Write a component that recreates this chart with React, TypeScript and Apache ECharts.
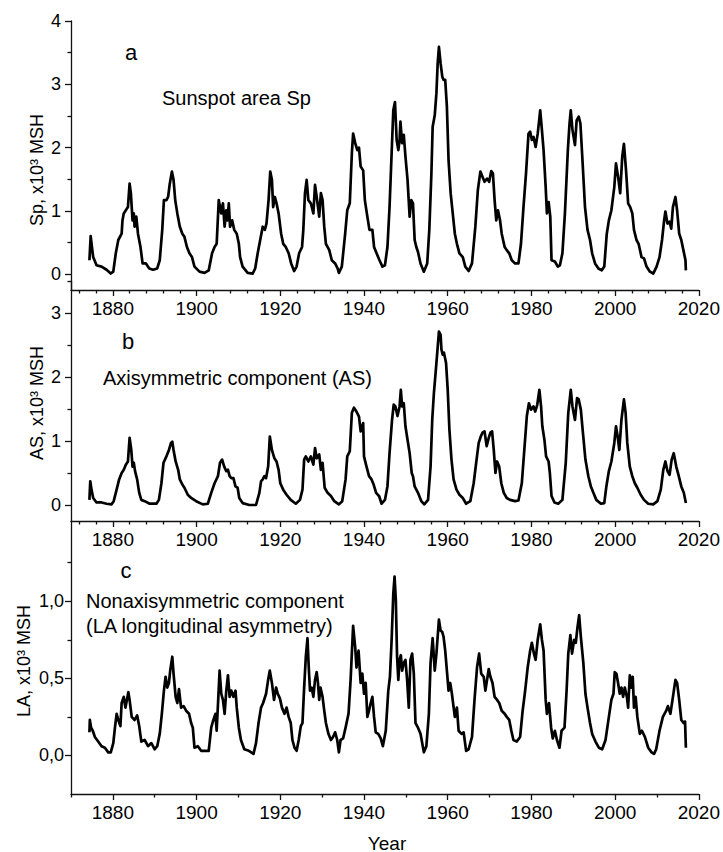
import React, { useEffect, useRef } from "react";
import * as echarts from "echarts";

// Year ticks shared by the three panels
const yearLabels = [1880, 1900, 1920, 1940, 1960, 1980, 2000, 2020];
const yearMinorAB = [1872, 1876, 1884, 1888, 1892, 1896, 1904, 1908, 1912, 1916, 1924, 1928, 1932, 1936, 1944, 1948, 1952, 1956, 1964, 1968, 1972, 1976, 1984, 1988, 1992, 1996, 2004, 2008, 2012, 2016];
const yearMinorC = [1870, 1890, 1910, 1930, 1950, 1970, 1990, 2010];

const spTicks = [0, 1, 2, 3, 4];
const spMinor = [0.5, 1.5, 2.5, 3.5];
const asTicks = [0, 1, 2, 3];
const asMinor = [0.5, 1.5, 2.5, 3.5];
const laTicks = [0, 0.5, 1.0];
const laMinor = [0.25, 0.75, 1.25];

// Sunspot area Sp, x10^3 MSH  [year, value]
const sunspotArea: [number, number][] = [
  [1874.4, 0.22], [1874.7, 0.6], [1875.0, 0.43], [1875.3, 0.27], [1876.1, 0.14], [1877.3, 0.12], [1878.5, 0.07], [1879.5, 0.01], [1880.1, 0.04], [1880.7, 0.33],
  [1881.3, 0.54], [1882.1, 0.64], [1882.3, 0.85], [1882.6, 0.96], [1883.1, 1.01], [1883.6, 1.06], [1884.0, 1.43], [1884.3, 1.28], [1884.7, 0.85], [1885.0, 0.96],
  [1885.2, 0.75], [1885.6, 0.91], [1886.0, 0.64], [1886.6, 0.43], [1887.1, 0.17], [1887.9, 0.17], [1888.7, 0.09], [1889.6, 0.07], [1890.6, 0.09], [1891.2, 0.22],
  [1891.8, 0.7], [1892.2, 1.17], [1892.8, 1.17], [1893.2, 1.22], [1893.6, 1.43], [1894.1, 1.62], [1894.5, 1.49], [1894.9, 1.17], [1895.4, 0.96], [1896.0, 0.75],
  [1896.6, 0.64], [1897.1, 0.59], [1897.7, 0.43], [1898.3, 0.33], [1898.9, 0.27], [1899.5, 0.12], [1900.7, 0.04], [1901.9, 0.02], [1902.9, 0.06], [1903.7, 0.33],
  [1904.3, 0.43], [1904.8, 0.48], [1905.3, 1.17], [1905.6, 1.06], [1905.9, 0.96], [1906.3, 1.12], [1906.7, 0.75], [1907.1, 1.01], [1907.4, 0.85], [1907.7, 1.12],
  [1908.0, 0.75], [1908.5, 0.85], [1909.0, 0.7], [1909.6, 0.64], [1910.1, 0.48], [1910.4, 0.27], [1911.0, 0.12], [1912.2, 0.02], [1913.4, 0.01], [1914.0, 0.09],
  [1914.6, 0.33], [1915.2, 0.54], [1915.8, 0.75], [1916.3, 0.7], [1916.7, 0.8], [1917.2, 1.17], [1917.6, 1.62], [1918.0, 1.49], [1918.3, 1.06], [1918.7, 1.22],
  [1919.1, 1.12], [1919.6, 0.96], [1920.2, 0.64], [1920.7, 0.48], [1921.3, 0.43], [1922.0, 0.33], [1922.6, 0.17], [1923.3, 0.05], [1923.9, 0.12], [1924.5, 0.33],
  [1925.2, 0.43], [1925.5, 0.7], [1925.9, 1.28], [1926.3, 1.49], [1926.7, 1.17], [1927.3, 1.12], [1927.9, 0.96], [1928.3, 1.41], [1928.7, 1.22], [1929.3, 0.91],
  [1929.7, 1.28], [1930.1, 1.17], [1930.5, 0.75], [1930.9, 0.48], [1931.7, 0.38], [1932.3, 0.22], [1933.1, 0.17], [1933.7, 0.09], [1934.0, 0.02], [1934.7, 0.12],
  [1935.5, 0.64], [1936.0, 1.01], [1936.6, 1.12], [1937.1, 1.91], [1937.4, 2.22], [1937.9, 2.07], [1938.4, 1.96], [1938.8, 2.0], [1939.2, 1.7], [1939.8, 1.64],
  [1940.2, 1.17], [1940.8, 0.91], [1941.3, 0.7], [1942.0, 0.7], [1942.4, 0.43], [1943.2, 0.3], [1943.7, 0.22], [1944.4, 0.12], [1945.0, 0.14], [1945.6, 0.43],
  [1946.1, 1.06], [1946.6, 1.91], [1947.0, 2.59], [1947.4, 2.72], [1947.8, 2.12], [1948.2, 1.96], [1948.5, 2.12], [1948.7, 2.41], [1949.1, 2.07], [1949.5, 2.2],
  [1949.9, 1.86], [1950.4, 1.49], [1950.9, 0.91], [1951.3, 1.17], [1951.7, 1.12], [1952.1, 0.54], [1952.5, 0.43], [1952.9, 0.35], [1953.5, 0.17], [1954.3, 0.04],
  [1955.1, 0.17], [1955.6, 0.7], [1956.1, 1.59], [1956.4, 2.33], [1956.9, 2.51], [1957.3, 2.86], [1957.6, 3.33], [1957.9, 3.59], [1958.3, 3.33], [1958.7, 3.12],
  [1959.0, 3.07], [1959.4, 3.07], [1959.8, 2.65], [1960.2, 1.8], [1960.7, 1.28], [1961.2, 0.96], [1961.7, 0.64], [1962.2, 0.48], [1962.8, 0.33], [1963.6, 0.27],
  [1964.2, 0.12], [1965.0, 0.05], [1965.8, 0.17], [1966.6, 0.75], [1967.2, 1.33], [1967.8, 1.62], [1968.3, 1.54], [1968.8, 1.46], [1969.4, 1.51], [1969.9, 1.46],
  [1970.4, 1.63], [1970.8, 1.59], [1971.2, 1.17], [1971.6, 0.85], [1972.0, 1.01], [1972.5, 0.85], [1972.9, 0.64], [1973.6, 0.43], [1974.1, 0.38], [1974.7, 0.33],
  [1975.3, 0.22], [1976.1, 0.17], [1976.9, 0.17], [1977.5, 0.48], [1978.1, 1.06], [1978.7, 1.59], [1979.3, 2.22], [1979.7, 2.25], [1980.1, 2.12], [1980.5, 2.17],
  [1981.0, 2.01], [1981.5, 2.22], [1982.1, 2.59], [1982.5, 2.28], [1982.9, 1.96], [1983.4, 1.38], [1983.7, 0.96], [1984.1, 1.14], [1984.5, 0.91], [1984.8, 0.22],
  [1985.6, 0.2], [1986.3, 0.12], [1986.8, 0.14], [1987.4, 0.33], [1988.0, 0.96], [1988.7, 1.96], [1989.1, 2.38], [1989.4, 2.59], [1989.8, 2.28], [1990.4, 2.04],
  [1990.8, 2.43], [1991.3, 2.49], [1991.7, 2.38], [1992.1, 1.91], [1992.8, 1.06], [1993.4, 0.7], [1994.0, 0.54], [1994.5, 0.33], [1995.2, 0.17], [1996.0, 0.09],
  [1996.8, 0.06], [1997.4, 0.12], [1998.0, 0.64], [1998.5, 0.85], [1999.1, 1.01], [1999.8, 1.38], [2000.2, 1.75], [2000.7, 1.54], [2001.2, 1.28], [2001.7, 1.86],
  [2002.1, 2.06], [2002.6, 1.64], [2003.1, 1.12], [2003.6, 1.06], [2004.1, 0.96], [2004.5, 0.7], [2005.1, 0.54], [2005.6, 0.48], [2006.3, 0.27], [2006.9, 0.25],
  [2007.5, 0.12], [2008.3, 0.04], [2009.1, 0.01], [2009.9, 0.12], [2010.6, 0.27], [2011.2, 0.54], [2011.7, 0.85], [2012.0, 0.99], [2012.5, 0.8], [2013.0, 0.83],
  [2013.4, 0.72], [2013.8, 1.06], [2014.4, 1.22], [2014.8, 1.01], [2015.3, 0.64], [2015.8, 0.54], [2016.3, 0.38], [2016.8, 0.22], [2016.9, 0.06],
];

// Axisymmetric component AS, x10^3 MSH  [year, value]
const axisymmetric: [number, number][] = [
  [1874.4, 0.08], [1874.6, 0.37], [1874.9, 0.24], [1875.3, 0.11], [1876.1, 0.04], [1877.3, 0.04], [1878.5, 0.02], [1879.7, 0.01], [1880.2, 0.06], [1880.9, 0.24],
  [1881.5, 0.4], [1882.1, 0.5], [1882.6, 0.55], [1883.1, 0.63], [1883.6, 0.68], [1884.0, 1.05], [1884.4, 0.86], [1884.7, 0.6], [1885.0, 0.66], [1885.3, 0.53],
  [1885.8, 0.4], [1886.3, 0.19], [1886.8, 0.08], [1887.6, 0.06], [1888.8, 0.02], [1890.4, 0.02], [1891.0, 0.08], [1891.6, 0.34], [1892.1, 0.66], [1892.8, 0.76],
  [1893.4, 0.86], [1893.9, 0.97], [1894.2, 0.99], [1894.5, 0.86], [1895.0, 0.68], [1895.6, 0.55], [1896.0, 0.4], [1896.6, 0.32], [1897.1, 0.27], [1897.9, 0.16],
  [1898.7, 0.11], [1899.9, 0.06], [1901.5, 0.01], [1902.7, 0.02], [1903.5, 0.19], [1904.3, 0.34], [1905.1, 0.45], [1905.6, 0.66], [1906.1, 0.71], [1906.6, 0.6],
  [1907.1, 0.53], [1907.5, 0.55], [1907.9, 0.45], [1908.3, 0.42], [1908.8, 0.42], [1909.3, 0.29], [1909.8, 0.27], [1910.2, 0.11], [1911.0, 0.03], [1912.6, 0.0],
  [1914.2, 0.0], [1915.0, 0.19], [1915.4, 0.37], [1915.8, 0.4], [1916.2, 0.45], [1916.6, 0.42], [1917.1, 0.6], [1917.5, 1.07], [1918.0, 0.86], [1918.6, 0.73],
  [1919.1, 0.68], [1919.6, 0.55], [1920.0, 0.34], [1920.7, 0.24], [1921.5, 0.16], [1922.5, 0.08], [1923.7, 0.02], [1924.7, 0.08], [1925.3, 0.24], [1925.7, 0.71],
  [1926.1, 0.76], [1926.7, 0.68], [1927.3, 0.76], [1927.9, 0.63], [1928.3, 0.89], [1928.7, 0.73], [1929.3, 0.79], [1929.7, 0.55], [1930.1, 0.66], [1930.6, 0.27],
  [1931.3, 0.19], [1932.1, 0.14], [1932.9, 0.06], [1934.0, 0.01], [1934.8, 0.06], [1935.6, 0.4], [1936.0, 0.76], [1936.6, 0.84], [1937.1, 1.44], [1937.6, 1.52],
  [1938.2, 1.46], [1938.8, 1.38], [1939.2, 1.15], [1939.8, 1.28], [1940.0, 0.76], [1940.6, 0.6], [1941.2, 0.45], [1941.8, 0.4], [1942.3, 0.32], [1942.9, 0.19],
  [1943.6, 0.14], [1944.2, 0.02], [1945.0, 0.08], [1945.6, 0.29], [1946.1, 0.81], [1946.7, 1.33], [1947.1, 1.57], [1947.5, 1.54], [1948.0, 1.39], [1948.5, 1.54],
  [1948.8, 1.8], [1949.1, 1.54], [1949.5, 1.59], [1949.9, 1.23], [1950.4, 1.02], [1950.9, 0.81], [1951.4, 0.5], [1951.7, 0.45], [1952.1, 0.29], [1952.9, 0.19],
  [1953.7, 0.06], [1954.4, 0.01], [1955.3, 0.08], [1955.9, 0.6], [1956.3, 1.33], [1956.7, 1.75], [1957.1, 2.06], [1957.5, 2.38], [1957.9, 2.71], [1958.3, 2.66],
  [1958.5, 2.43], [1958.8, 2.35], [1959.1, 2.38], [1959.6, 2.22], [1960.0, 1.8], [1960.4, 1.18], [1960.9, 0.71], [1961.4, 0.4], [1962.1, 0.24], [1962.8, 0.16],
  [1963.6, 0.11], [1964.4, 0.02], [1965.4, 0.06], [1966.2, 0.34], [1966.8, 0.66], [1967.4, 0.97], [1967.9, 1.07], [1968.3, 1.13], [1968.8, 1.15], [1969.3, 0.92],
  [1969.8, 1.05], [1970.2, 1.13], [1970.6, 1.15], [1971.0, 0.86], [1971.4, 0.5], [1971.8, 0.68], [1972.3, 0.6], [1972.8, 0.34], [1973.4, 0.19], [1974.1, 0.11],
  [1974.9, 0.08], [1976.1, 0.06], [1976.9, 0.07], [1977.7, 0.34], [1978.3, 0.86], [1978.9, 1.39], [1979.4, 1.59], [1979.9, 1.49], [1980.5, 1.54], [1980.9, 1.46],
  [1981.4, 1.57], [1981.9, 1.8], [1982.3, 1.54], [1982.6, 1.23], [1983.1, 1.02], [1983.5, 0.76], [1984.1, 0.68], [1984.4, 0.5], [1984.8, 0.14], [1985.5, 0.04],
  [1986.4, 0.02], [1987.4, 0.08], [1988.2, 0.66], [1988.8, 1.44], [1989.4, 1.8], [1989.8, 1.54], [1990.4, 1.33], [1990.9, 1.67], [1991.3, 1.65], [1991.8, 1.49],
  [1992.3, 1.13], [1992.9, 0.71], [1993.6, 0.45], [1994.2, 0.29], [1994.8, 0.19], [1995.5, 0.08], [1996.6, 0.02], [1997.4, 0.03], [1997.9, 0.29], [1998.5, 0.53],
  [1999.1, 0.68], [1999.8, 0.97], [2000.2, 1.23], [2000.6, 1.07], [2001.0, 0.86], [2001.5, 1.33], [2002.1, 1.65], [2002.5, 1.44], [2002.9, 0.97], [2003.5, 0.6],
  [2004.1, 0.45], [2004.7, 0.34], [2005.3, 0.27], [2006.1, 0.16], [2006.9, 0.08], [2007.9, 0.02], [2009.1, 0.01], [2010.1, 0.06], [2010.9, 0.24], [2011.5, 0.55],
  [2012.0, 0.68], [2012.5, 0.53], [2013.0, 0.47], [2013.5, 0.71], [2014.0, 0.81], [2014.6, 0.6], [2015.2, 0.45], [2015.8, 0.29], [2016.4, 0.19], [2016.9, 0.03],
];

// Nonaxisymmetric component LA, x10^3 MSH  [year, value]
const nonAxisymmetric: [number, number][] = [
  [1874.4, 0.15], [1874.5, 0.23], [1874.8, 0.18], [1875.2, 0.16], [1875.7, 0.12], [1876.5, 0.09], [1877.3, 0.06], [1878.1, 0.05], [1878.9, 0.02], [1879.5, 0.02],
  [1880.1, 0.08], [1880.5, 0.18], [1880.9, 0.27], [1881.3, 0.23], [1881.8, 0.19], [1882.1, 0.34], [1882.6, 0.38], [1883.0, 0.31], [1883.7, 0.41], [1884.0, 0.36],
  [1884.5, 0.25], [1885.2, 0.23], [1885.8, 0.26], [1886.3, 0.19], [1886.8, 0.09], [1887.6, 0.1], [1888.4, 0.06], [1889.2, 0.08], [1890.0, 0.04], [1890.6, 0.06],
  [1891.2, 0.14], [1891.7, 0.27], [1892.2, 0.42], [1892.6, 0.51], [1893.0, 0.44], [1893.4, 0.47], [1893.7, 0.55], [1894.2, 0.64], [1894.5, 0.53], [1895.0, 0.38],
  [1895.4, 0.34], [1895.8, 0.43], [1896.3, 0.31], [1896.9, 0.32], [1897.5, 0.29], [1898.2, 0.27], [1898.7, 0.21], [1899.1, 0.18], [1899.5, 0.05], [1900.3, 0.06],
  [1901.1, 0.03], [1901.9, 0.03], [1902.9, 0.03], [1903.5, 0.18], [1903.9, 0.22], [1904.5, 0.27], [1904.8, 0.16], [1905.2, 0.38], [1905.5, 0.55], [1905.9, 0.4],
  [1906.3, 0.36], [1906.7, 0.27], [1907.1, 0.42], [1907.5, 0.52], [1907.9, 0.38], [1908.3, 0.42], [1908.8, 0.38], [1909.3, 0.42], [1909.6, 0.31], [1910.1, 0.18],
  [1910.6, 0.1], [1911.4, 0.04], [1912.5, 0.03], [1913.6, 0.01], [1914.2, 0.08], [1914.8, 0.21], [1915.4, 0.31], [1915.9, 0.34], [1916.6, 0.4], [1917.1, 0.49],
  [1917.5, 0.55], [1918.0, 0.47], [1918.5, 0.36], [1919.0, 0.44], [1919.4, 0.4], [1919.9, 0.37], [1920.4, 0.31], [1921.0, 0.27], [1921.5, 0.31], [1922.0, 0.25],
  [1922.5, 0.21], [1922.9, 0.1], [1923.4, 0.05], [1923.9, 0.03], [1924.4, 0.1], [1924.9, 0.19], [1925.3, 0.21], [1925.7, 0.44], [1926.1, 0.64], [1926.5, 0.76],
  [1926.8, 0.57], [1927.1, 0.42], [1927.5, 0.44], [1927.9, 0.38], [1928.3, 0.49], [1928.7, 0.54], [1929.0, 0.47], [1929.3, 0.36], [1929.6, 0.44], [1930.1, 0.38],
  [1930.5, 0.29], [1930.9, 0.21], [1931.5, 0.14], [1932.1, 0.1], [1932.6, 0.12], [1933.1, 0.15], [1933.6, 0.1], [1934.0, 0.02], [1934.4, 0.1], [1935.0, 0.11],
  [1935.6, 0.18], [1936.3, 0.27], [1936.8, 0.49], [1937.4, 0.84], [1937.9, 0.7], [1938.2, 0.57], [1938.7, 0.68], [1939.2, 0.47], [1939.6, 0.53], [1940.0, 0.4],
  [1940.4, 0.47], [1940.8, 0.25], [1941.2, 0.29], [1941.6, 0.34], [1942.0, 0.38], [1942.4, 0.25], [1942.8, 0.15], [1943.4, 0.14], [1944.0, 0.11], [1944.5, 0.06],
  [1945.2, 0.16], [1945.8, 0.42], [1946.2, 0.51], [1946.6, 0.75], [1947.0, 1.05], [1947.3, 1.16], [1947.6, 1.01], [1947.9, 0.64], [1948.2, 0.49], [1948.5, 0.62],
  [1948.8, 0.65], [1949.1, 0.55], [1949.5, 0.6], [1949.9, 0.62], [1950.3, 0.49], [1950.7, 0.31], [1951.1, 0.62], [1951.5, 0.66], [1951.9, 0.53], [1952.3, 0.21],
  [1952.9, 0.18], [1953.5, 0.14], [1954.3, 0.02], [1954.9, 0.06], [1955.5, 0.27], [1955.9, 0.6], [1956.4, 0.76], [1956.9, 0.55], [1957.3, 0.66], [1957.9, 0.88],
  [1958.3, 0.81], [1958.7, 0.8], [1959.0, 0.77], [1959.4, 0.68], [1959.8, 0.55], [1960.2, 0.42], [1960.6, 0.47], [1961.0, 0.4], [1961.7, 0.25], [1962.2, 0.31],
  [1962.6, 0.16], [1963.3, 0.14], [1963.8, 0.15], [1964.4, 0.03], [1965.0, 0.04], [1965.8, 0.12], [1966.4, 0.36], [1967.0, 0.57], [1967.5, 0.66], [1968.0, 0.53],
  [1968.6, 0.51], [1969.0, 0.42], [1969.4, 0.49], [1969.8, 0.56], [1970.2, 0.51], [1970.7, 0.47], [1971.2, 0.38], [1971.8, 0.36], [1972.3, 0.34], [1972.9, 0.29],
  [1973.6, 0.27], [1974.1, 0.25], [1974.7, 0.23], [1975.2, 0.16], [1975.7, 0.1], [1976.5, 0.09], [1977.3, 0.12], [1977.9, 0.29], [1978.5, 0.42], [1979.1, 0.57],
  [1979.7, 0.68], [1980.1, 0.73], [1980.6, 0.66], [1981.0, 0.62], [1981.5, 0.75], [1982.1, 0.85], [1982.5, 0.75], [1982.9, 0.68], [1983.4, 0.36], [1983.7, 0.27],
  [1984.2, 0.34], [1984.7, 0.18], [1985.1, 0.11], [1985.6, 0.16], [1986.1, 0.1], [1986.7, 0.05], [1987.2, 0.16], [1987.9, 0.18], [1988.4, 0.42], [1988.8, 0.66],
  [1989.3, 0.78], [1989.7, 0.66], [1990.2, 0.75], [1990.6, 0.73], [1991.0, 0.83], [1991.4, 0.91], [1991.8, 0.77], [1992.4, 0.6], [1992.9, 0.4], [1993.4, 0.31],
  [1994.0, 0.21], [1994.5, 0.14], [1995.3, 0.09], [1996.1, 0.05], [1996.9, 0.04], [1997.7, 0.1], [1998.5, 0.25], [1999.1, 0.36], [1999.6, 0.4], [1999.9, 0.54],
  [2000.3, 0.53], [2000.7, 0.47], [2001.1, 0.4], [2001.5, 0.44], [2001.9, 0.38], [2002.3, 0.44], [2002.8, 0.38], [2003.1, 0.31], [2003.5, 0.52], [2003.9, 0.44],
  [2004.2, 0.51], [2004.5, 0.31], [2004.9, 0.38], [2005.3, 0.25], [2005.9, 0.14], [2006.4, 0.16], [2007.1, 0.12], [2007.9, 0.05], [2008.7, 0.02], [2009.3, 0.01],
  [2009.8, 0.04], [2010.6, 0.16], [2011.4, 0.25], [2012.2, 0.29], [2012.6, 0.32], [2013.2, 0.27], [2013.7, 0.36], [2014.4, 0.49], [2014.8, 0.47], [2015.3, 0.36],
  [2015.8, 0.23], [2016.4, 0.21], [2016.7, 0.22], [2016.9, 0.05],
];

const FONT = "Arial";
const INK = "#111";

type Panel = {
  top: number;
  height: number;
  yMin: number;
  yMax: number;
  yTicks: number[];
  yMinor: number[];
  xMinor: number[];
  labelMargin: number;
  fmt: (v: number) => string;
  data: [number, number][];
};

const panels: Panel[] = [
  { top: 21, height: 269, yMin: -0.25, yMax: 4, yTicks: spTicks, yMinor: spMinor, xMinor: yearMinorAB, labelMargin: 10, fmt: (v) => String(v), data: sunspotArea },
  { top: 281, height: 240, yMin: -0.25, yMax: 3.5, yTicks: asTicks, yMinor: asMinor, xMinor: yearMinorAB, labelMargin: 10, fmt: (v) => String(v), data: axisymmetric },
  { top: 521, height: 273, yMin: -0.25, yMax: 1.52, yTicks: laTicks, yMinor: laMinor, xMinor: yearMinorC, labelMargin: 7, fmt: (v) => v.toFixed(1).replace(".", ","), data: nonAxisymmetric },
];

function buildOption() {
  const grid: any[] = [];
  const xAxis: any[] = [];
  const yAxis: any[] = [];
  const series: any[] = [];
  const lineStyle = { color: INK, width: 1.3 };

  panels.forEach((p, i) => {
    grid.push({ left: 71, right: 22, top: p.top, height: p.height, containLabel: false });
    // major year axis with labels
    xAxis.push({
      type: "value", gridIndex: i, min: 1870, max: 2020, position: "bottom",
      axisLine: { show: true, onZero: false, lineStyle },
      axisTick: { show: true, inside: false, length: 6, customValues: yearLabels, lineStyle },
      axisLabel: { show: true, customValues: yearLabels, margin: 9, fontSize: 19, fontFamily: FONT, color: "#000", formatter: (v: number) => String(v) },
      splitLine: { show: false },
    });
    // minor year ticks
    xAxis.push({
      type: "value", gridIndex: i, min: 1870, max: 2020, position: "bottom",
      axisLine: { show: false, onZero: false },
      axisTick: { show: true, inside: false, length: 3.5, customValues: p.xMinor, lineStyle },
      axisLabel: { show: false },
      splitLine: { show: false },
    });
    yAxis.push({
      type: "value", gridIndex: i, min: p.yMin, max: p.yMax, position: "left",
      axisLine: { show: true, onZero: false, lineStyle },
      axisTick: { show: true, inside: false, length: 6, customValues: p.yTicks, lineStyle },
      axisLabel: { show: true, customValues: p.yTicks, margin: p.labelMargin, fontSize: 18, fontFamily: FONT, color: "#000", formatter: p.fmt },
      splitLine: { show: false },
    });
    yAxis.push({
      type: "value", gridIndex: i, min: p.yMin, max: p.yMax, position: "left",
      axisLine: { show: false, onZero: false },
      axisTick: { show: true, inside: false, length: 3.5, customValues: p.yMinor, lineStyle },
      axisLabel: { show: false },
      splitLine: { show: false },
    });
    series.push({
      type: "line", xAxisIndex: 2 * i, yAxisIndex: 2 * i, data: p.data,
      showSymbol: false, symbol: "none", smooth: false,
      lineStyle: { color: "#000", width: 2.7, join: "round" },
    });
  });

  const txt = (text: string, x: number, y: number, size: number, align = "left", rotation = 0) => ({
    type: "text", x, y, rotation, z: 10,
    style: {
      text, fontSize: size, fontFamily: FONT, fill: "#000",
      align, textAlign: align, verticalAlign: "middle", textVerticalAlign: "middle",
    },
  });

  const graphic = [
    txt("a", 131, 52, 22, "center"),
    txt("Sunspot area Sp", 162, 98, 20),
    txt("b", 128, 341, 22, "center"),
    txt("Axisymmetric component (AS)", 103, 378, 20),
    txt("c", 126, 570, 22, "center"),
    txt("Nonaxisymmetric component", 86, 601, 20),
    txt("(LA longitudinal asymmetry)", 86, 626, 20),
    txt("Sp, x10³ MSH", 37, 170, 18, "center", Math.PI / 2),
    txt("AS, x10³ MSH", 37, 403, 18, "center", Math.PI / 2),
    txt("LA, x10³ MSH", 24, 661, 18, "center", Math.PI / 2),
    txt("Year", 387, 843, 19, "center"),
  ];

  return {
    animation: false,
    backgroundColor: "#fff",
    grid,
    xAxis,
    yAxis,
    series,
    graphic,
  };
}

export default function App() {
  const ref = useRef<HTMLDivElement>(null);
  useEffect(() => {
    if (!ref.current) return;
    const chart = echarts.init(ref.current, undefined, { renderer: "svg" });
    chart.setOption(buildOption() as any);
    return () => chart.dispose();
  }, []);
  return <div ref={ref} style={{ position: "fixed", left: 0, top: 0, width: 723, height: 852, background: "#fff" }} />;
}
